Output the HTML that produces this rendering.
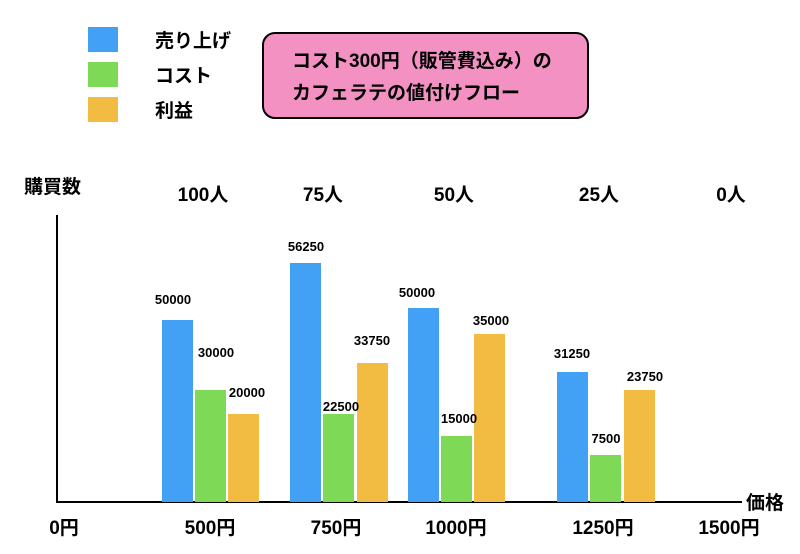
<!DOCTYPE html>
<html><head><meta charset="utf-8"><style>
body{margin:0;width:800px;height:549px;background:#fff;overflow:hidden;font-family:"Liberation Sans","Noto Sans CJK JP",sans-serif;}
</style></head><body>
<svg width="800" height="549" xmlns="http://www.w3.org/2000/svg" font-family="Liberation Sans, Noto Sans CJK JP, sans-serif">
<rect x="88" y="27" width="30" height="25" fill="#42a1f5"/>
<rect x="88" y="62" width="30" height="25" fill="#7ed957"/>
<rect x="88" y="97" width="30" height="25" fill="#f2bb41"/>
<text x="155" y="47" font-size="19" font-weight="bold">売り上げ</text>
<text x="155" y="82" font-size="19" font-weight="bold">コスト</text>
<text x="155" y="117" font-size="19" font-weight="bold">利益</text>
<rect x="263" y="33" width="325" height="85" rx="12" fill="#f291c2" stroke="#000" stroke-width="2"/>
<text x="292" y="67" font-size="19" font-weight="bold">コスト300円（販管費込み）の</text>
<text x="292" y="99" font-size="19" font-weight="bold">カフェラテの値付けフロー</text>
<text x="24" y="193" font-size="19" font-weight="bold">購買数</text>
<g font-size="19" font-weight="bold" text-anchor="middle">
<text x="203" y="201">100人</text><text x="323" y="201">75人</text><text x="454" y="201">50人</text><text x="599" y="201">25人</text><text x="731" y="201">0人</text>
<text x="64" y="534">0円</text><text x="210" y="534">500円</text><text x="336" y="534">750円</text><text x="456" y="534">1000円</text><text x="603" y="534">1250円</text><text x="729" y="534">1500円</text>
</g>
<text x="746" y="509" font-size="19" font-weight="bold">価格</text>
<line x1="57" y1="215" x2="57" y2="503" stroke="#000" stroke-width="2"/>
<line x1="56" y1="502" x2="742" y2="502" stroke="#000" stroke-width="2"/>
<g>
<rect x="162" y="320" width="31" height="182" fill="#42a1f5"/>
<rect x="195" y="390" width="31" height="112" fill="#7ed957"/>
<rect x="228" y="414" width="31" height="88" fill="#f2bb41"/>
<rect x="290" y="263" width="31" height="239" fill="#42a1f5"/>
<rect x="323" y="414" width="31" height="88" fill="#7ed957"/>
<rect x="357" y="363" width="31" height="139" fill="#f2bb41"/>
<rect x="408" y="308" width="31" height="194" fill="#42a1f5"/>
<rect x="441" y="436" width="31" height="66" fill="#7ed957"/>
<rect x="474" y="334" width="31" height="168" fill="#f2bb41"/>
<rect x="557" y="372" width="31" height="130" fill="#42a1f5"/>
<rect x="590" y="455" width="31" height="47" fill="#7ed957"/>
<rect x="624" y="390" width="31" height="112" fill="#f2bb41"/>
</g>
<g font-size="13" font-weight="bold" text-anchor="middle">
<text x="173" y="304">50000</text><text x="216" y="357">30000</text><text x="247" y="397">20000</text>
<text x="306" y="251">56250</text><text x="341" y="411">22500</text><text x="372" y="345">33750</text>
<text x="417" y="297">50000</text><text x="459" y="423">15000</text><text x="491" y="325">35000</text>
<text x="572" y="358">31250</text><text x="606" y="443">7500</text><text x="645" y="381">23750</text>
</g>
</svg>
</body></html>
